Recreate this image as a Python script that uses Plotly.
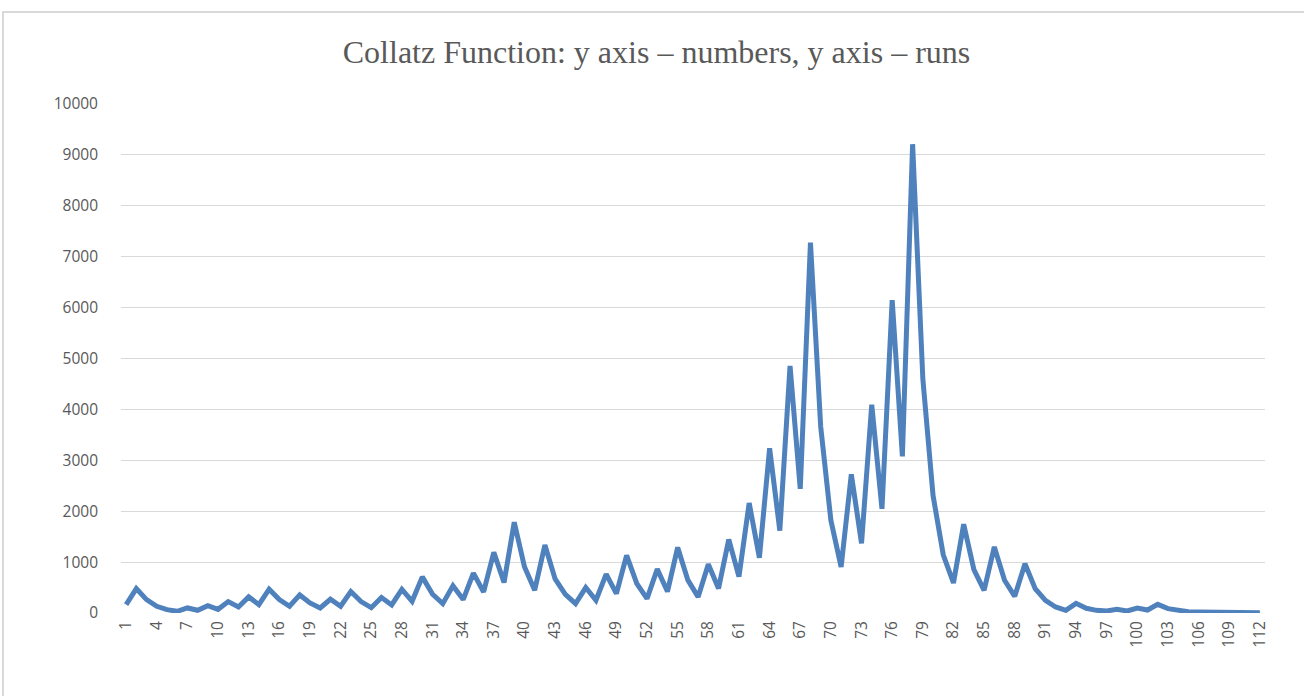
import plotly.graph_objects as go

runs = list(range(1, 113))
numbers = [
    164, 480, 263, 132, 66, 33, 99, 53, 145, 72,
    224, 118, 316, 164, 467, 263, 132, 355, 197, 99,
    270, 132, 421, 224, 105, 303, 158, 465, 230, 710,
    368, 184, 533, 263, 783, 414, 1191, 599, 1783, 908,
    447, 1336, 671, 368, 184, 500, 250, 763, 382, 1132,
    579, 283, 862, 421, 1289, 645, 316, 956, 482, 1445,
    715, 2160, 1084, 3236, 1618, 4853, 2438, 7276, 3664, 1821,
    903, 2724, 1369, 4093, 2047, 6147, 3077, 9210, 4605, 2310,
    1144, 590, 1744, 852, 446, 1298, 643, 328, 970, 479,
    249, 118, 52, 190, 92, 52, 39, 72, 39, 98,
    59, 170, 85, 46, 26, 20, 20, 26, 20, 13,
    13, 7,
]
x_ticks = list(range(1, 113, 3))
y_ticks = list(range(0, 10001, 1000))
title_text = "Collatz Function: y axis \u2013 numbers, y axis \u2013 runs"

W, H = 1304, 696
L, R, T, B = 121, 39, 104, 83
pw, ph = W - L - R, H - T - B

fig = go.Figure()
fig.add_trace(go.Scatter(
    x=runs, y=numbers, mode="lines",
    line=dict(color="#4f81bd", width=5, shape="linear"),
    hoverinfo="x+y", showlegend=False,
))

grey = "#595959"
tick_font = dict(family="Open Sans, Liberation Sans, sans-serif", size=15.5, color=grey)
fig.update_layout(
    width=W, height=H,
    margin=dict(l=L, r=R, t=T, b=B),
    paper_bgcolor="white", plot_bgcolor="white",
    title=dict(text=title_text, x=656.5 / W, xref="container", xanchor="center",
               y=1 - 52 / H, yref="container", yanchor="middle",
               font=dict(family="Liberation Serif, Times New Roman, serif", size=32, color=grey)),
    xaxis=dict(range=[0.5, 112.5], tickmode="array", tickvals=x_ticks,
               ticktext=[str(v) for v in x_ticks], tickangle=-90,
               showgrid=False, zeroline=False, showline=False, ticks="",
               ticklabelstandoff=4, tickfont=tick_font),
    yaxis=dict(range=[0, 10000], tickmode="array", tickvals=y_ticks,
               ticktext=[str(v) for v in y_ticks],
               showgrid=True, gridcolor="#d9d9d9", gridwidth=1, zeroline=False,
               showline=False, ticks="", ticklabelstandoff=22, tickfont=tick_font),
    shapes=[dict(type="rect", xref="paper", yref="paper",
                 x0=(3 - L) / pw, x1=(W + 5 - L) / pw,
                 y0=(H - (H + 5) - B) / ph, y1=(H - 12 - B) / ph,
                 line=dict(color="#d9d9d9", width=2), fillcolor="rgba(0,0,0,0)",
                 layer="below")],
)

fig.write_html("out.html", config={"displayModeBar": False},
               post_script="document.body.style.margin='0';")
